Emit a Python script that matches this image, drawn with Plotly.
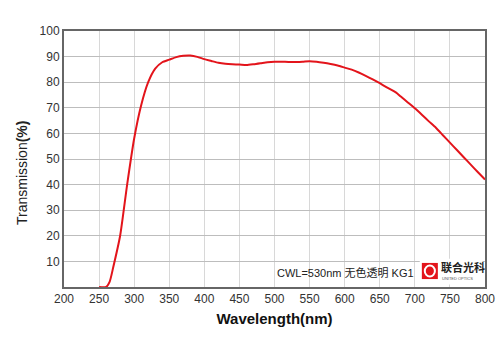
import plotly.graph_objects as go

wavelength = [250, 260, 265, 270, 280, 290, 300, 310, 320, 330, 340, 350, 360, 370, 380, 390,
              400, 410, 420, 430, 440, 450, 460, 470, 480, 490, 500, 510, 520, 530, 540, 550,
              560, 570, 580, 590, 600, 610, 620, 630, 640, 650, 660, 670, 675, 680, 690, 700,
              710, 720, 730, 740, 750, 760, 770, 780, 790, 800]
transmission = [0, 0, 2, 7.5, 20, 40, 58, 71, 80, 85.3, 87.8, 88.8, 89.8, 90.3, 90.4, 89.9,
                89.0, 88.3, 87.6, 87.2, 87.0, 86.9, 86.7, 87.0, 87.4, 87.8, 88.0, 88.0, 87.9, 87.9, 88.0, 88.2,
                88.0, 87.6, 87.1, 86.5, 85.7, 84.9, 83.8, 82.5, 81.1, 79.6, 78.0, 76.5, 75.6, 74.4, 72.1, 69.8,
                67.3, 64.7, 62.2, 59.3, 56.4, 53.5, 50.6, 47.7, 44.8, 42.0]

x_ticks = list(range(200, 801, 50))
y_ticks = list(range(10, 101, 10))

fig = go.Figure()
fig.add_trace(go.Scatter(x=wavelength, y=transmission, mode="lines",
                         line=dict(color="#e3141b", width=2, shape="spline", smoothing=0.6),
                         hoverinfo="skip", showlegend=False))

fig.update_layout(
    width=500, height=353,
    margin=dict(l=64, r=15, t=31, b=66, autoexpand=False),
    paper_bgcolor="white", plot_bgcolor="white",
    font=dict(family="Liberation Sans, Arial, sans-serif", color="#333"),
    xaxis=dict(range=[200, 800], tickvals=x_ticks, ticks="", tickfont=dict(size=12, color="#333"),
               showgrid=True, gridcolor="#d8d8d8", gridwidth=1, automargin=False,
               showline=True, linecolor="#666", linewidth=2, mirror=True, zeroline=False,
               title=dict(text="<b>Wavelength(nm)</b>", font=dict(size=15, color="#111"), standoff=8)),
    yaxis=dict(range=[0, 100], tickvals=y_ticks, ticks="", tickfont=dict(size=12, color="#333"),
               showgrid=True, gridcolor="#bdbdbd", gridwidth=1, automargin=False,
               showline=True, linecolor="#666", linewidth=2, mirror=True, zeroline=False),
)

fig.add_annotation(x=-0.0998, y=0.449, xref="paper", yref="paper", xanchor="center", yanchor="middle",
                   text="Transmission<b>(%)</b>", showarrow=False, textangle=-90,
                   font=dict(size=14, color="#222"))

fig.add_annotation(x=0.669, y=0.055, xref="paper", yref="paper", xanchor="center", yanchor="middle",
                   text="CWL=530nm 无色透明 KG1", showarrow=False,
                   font=dict(size=11, color="#222", family="Liberation Sans, Noto Sans CJK SC, sans-serif"))

# logo
fig.add_shape(type="rect", xref="paper", yref="paper", x0=0.845, x1=0.995, y0=0.01, y1=0.11,
              fillcolor="white", line=dict(width=0), layer="above")
fig.add_shape(type="rect", xref="paper", yref="paper", x0=0.850, x1=0.888, y0=0.031, y1=0.094,
              fillcolor="#e3141b", line=dict(width=0), layer="above")
fig.add_shape(type="circle", xref="paper", yref="paper", x0=0.857, x1=0.881, y0=0.041, y1=0.084,
              fillcolor="rgba(0,0,0,0)", line=dict(color="white", width=2), layer="above")
fig.add_annotation(x=0.891, y=0.078, xref="paper", yref="paper", xanchor="left", yanchor="middle",
                   text="<b>联合光科</b>", showarrow=False,
                   font=dict(size=11, color="#222", family="Noto Sans CJK SC, sans-serif"))
fig.add_annotation(x=0.894, y=0.033, xref="paper", yref="paper", xanchor="left", yanchor="middle",
                   text="UNITED OPTICS", showarrow=False,
                   font=dict(size=4, color="#555"))

fig.write_html("out.html")
